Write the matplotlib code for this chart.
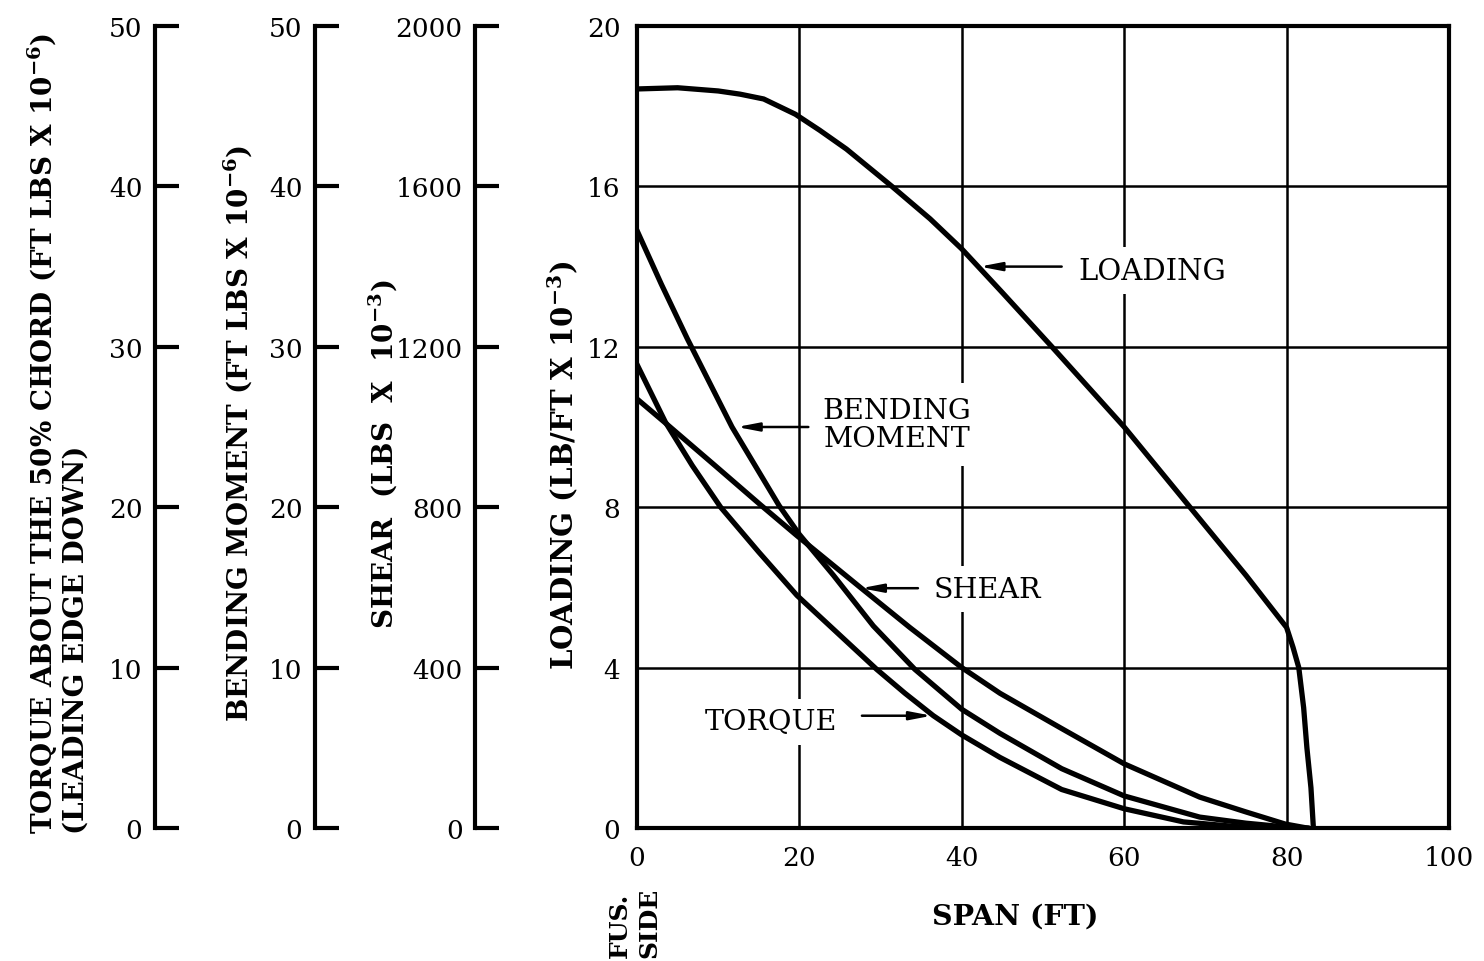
import matplotlib
matplotlib.use("Agg")
import matplotlib.pyplot as plt

plt.rcParams['font.family'] = ['DejaVu Serif']
plt.rcParams['mathtext.fontset'] = 'dejavuserif'
plt.rcParams['mathtext.default'] = 'bf'

# span stations (ft) and curve values
load_x = [0, 5, 10, 12.7, 15.6, 19.5, 22.5, 25.8, 31.4, 36.1, 40, 45, 51.1, 60, 68.1, 75, 80,
          80.8, 81.5, 82.1, 82.5, 83.0, 83.3]
load_y = [18.43, 18.46, 18.38, 18.3, 18.18, 17.8, 17.4, 16.93, 16.0, 15.19, 14.44, 13.35, 12.0,
          10.0, 8.0, 6.3, 5.0, 4.5, 4.0, 3.0, 2.0, 1.0, 0.0]

# bending moment, ft-lb x 1e-6
bm_x = [0, 3, 6.2, 11.7, 17.5, 20, 24.2, 29.1, 34.2, 40, 44.7, 52.3, 60, 69.3, 75, 80, 82.5]
bm_y = [37.25, 33.9, 30.5, 25.0, 20.1, 18.3, 15.75, 12.6, 9.9, 7.4, 5.9, 3.7, 2.0, 0.68, 0.3,
        0.06, 0.0]

# shear, lb x 1e-3
shear_x = [0, 3.5, 9.6, 15.2, 19.7, 27.5, 33.6, 40, 44.7, 52.3, 60, 69.3, 75, 79.8, 82.5]
shear_y = [1070, 1010, 904, 806, 729, 600, 500, 400, 336, 248, 160, 77, 40, 10, 0]

# torque about 50% chord, ft-lb x 1e-6
torque_x = [0, 3.5, 6.8, 10.3, 15, 19.7, 24.6, 29.5, 33, 36.5, 40, 44.7, 52.3, 60, 67.3, 74, 80]
torque_y = [28.9, 25.3, 22.6, 20.0, 17.2, 14.5, 12.2, 9.9, 8.4, 7.0, 5.8, 4.4, 2.4, 1.2, 0.38,
            0.08, 0.0]

span_ticks = [0, 20, 40, 60, 80, 100]
load_ticks = [0, 4, 8, 12, 16, 20]
moment_ticks = [0, 10, 20, 30, 40, 50]
shear_ticks = [0, 400, 800, 1200, 1600, 2000]

fig = plt.figure(figsize=(14.84, 9.62), dpi=100)
W, H = 1484, 962
L, R, T, B = 637, 1449, 27, 829
ax = fig.add_axes([L / W, 1 - B / H, (R - L) / W, (B - T) / H])
ax.set_xlim(0, 100)
ax.set_ylim(0, 20)
ax.set_xticks(span_ticks)
ax.set_yticks(load_ticks)
ax.tick_params(length=0, labelsize=19, pad=12)
ax.grid(True, color='black', linewidth=1.8)
for s in ax.spines.values():
    s.set_linewidth(3)
ax.plot(load_x, load_y, color='black', lw=3.8, solid_joinstyle='round', zorder=5)


def side_axis(frac, top, ticks, xs, ys):
    tw = ax.twinx()
    tw.set_ylim(0, top)
    tw.patch.set_visible(False)
    for k in ['right', 'top', 'bottom']:
        tw.spines[k].set_visible(False)
    tw.spines['left'].set_visible(True)
    tw.spines['left'].set_position(('axes', frac))
    tw.spines['left'].set_linewidth(3)
    tw.yaxis.set_ticks_position('left')
    tw.set_yticks(ticks)
    tw.tick_params(direction='in', length=17, width=3, labelsize=19, pad=9)
    tw.plot(xs, ys, color='black', lw=3.8, solid_joinstyle='round', zorder=5)
    return tw


side_axis(-0.5936, 50, moment_ticks, torque_x, torque_y)
side_axis(-0.3966, 50, moment_ticks, bm_x, bm_y)
side_axis(-0.1995, 2000, shear_ticks, shear_x, shear_y)

# axis titles
fig.text(90 / W, 1 - 834 / H,
         'TORQUE ABOUT THE 50% CHORD (FT LBS X 10$^{-6}$)\n(LEADING EDGE DOWN)',
         rotation=90, ha='right', va='bottom', multialignment='left',
         fontsize=20, fontweight='bold', linespacing=1.15)
fig.text(238 / W, 1 - 434 / H, 'BENDING MOMENT (FT LBS X 10$^{-6}$)',
         rotation=90, ha='center', va='center', fontsize=20, fontweight='bold')
fig.text(383 / W, 1 - 454 / H, 'SHEAR  (LBS  X  10$^{-3}$)',
         rotation=90, ha='center', va='center', fontsize=20, fontweight='bold')
fig.text(563 / W, 1 - 465 / H, 'LOADING (LB/FT X 10$^{-3}$)',
         rotation=90, ha='center', va='center', fontsize=21, fontweight='bold')
fig.text(1015 / W, 1 - 917 / H, 'SPAN (FT)', ha='center', va='center',
         fontsize=20.5, fontweight='bold')
fig.text(661 / W, 1 - 958 / H, 'FUS.\nSIDE', rotation=90, ha='right', va='bottom',
         multialignment='left', fontsize=18, fontweight='bold', linespacing=1.25)

# curve callouts
box = dict(facecolor='white', edgecolor='none', pad=7)
arrow = dict(arrowstyle='-|>,head_length=1.3,head_width=0.25', color='black', lw=1.8,
             shrinkA=0, shrinkB=0)
ax.annotate('', xy=(42.2, 14.0), xytext=(52.3, 14.0), arrowprops=arrow, zorder=6)
ax.text(54.3, 13.9, 'LOADING', fontsize=21, va='center', ha='left', bbox=box, zorder=4)
ax.annotate('', xy=(12.3, 10.0), xytext=(21.1, 10.0), arrowprops=arrow, zorder=6)
ax.text(32.0, 10.07, 'BENDING\nMOMENT', fontsize=20.5, va='center', ha='center',
        linespacing=1.05, bbox=dict(facecolor='white', edgecolor='none', pad=10), zorder=4)
ax.annotate('', xy=(27.6, 5.98), xytext=(34.6, 5.98), arrowprops=arrow, zorder=6)
ax.text(36.5, 5.96, 'SHEAR', fontsize=20.5, va='center', ha='left', bbox=box, zorder=4)
ax.annotate('', xy=(36.3, 2.8), xytext=(27.7, 2.8), arrowprops=arrow, zorder=6)
ax.text(8.4, 2.65, 'TORQUE', fontsize=20.5, va='center', ha='left', bbox=box, zorder=4)

fig.savefig('out.png', dpi=100, facecolor='white')
